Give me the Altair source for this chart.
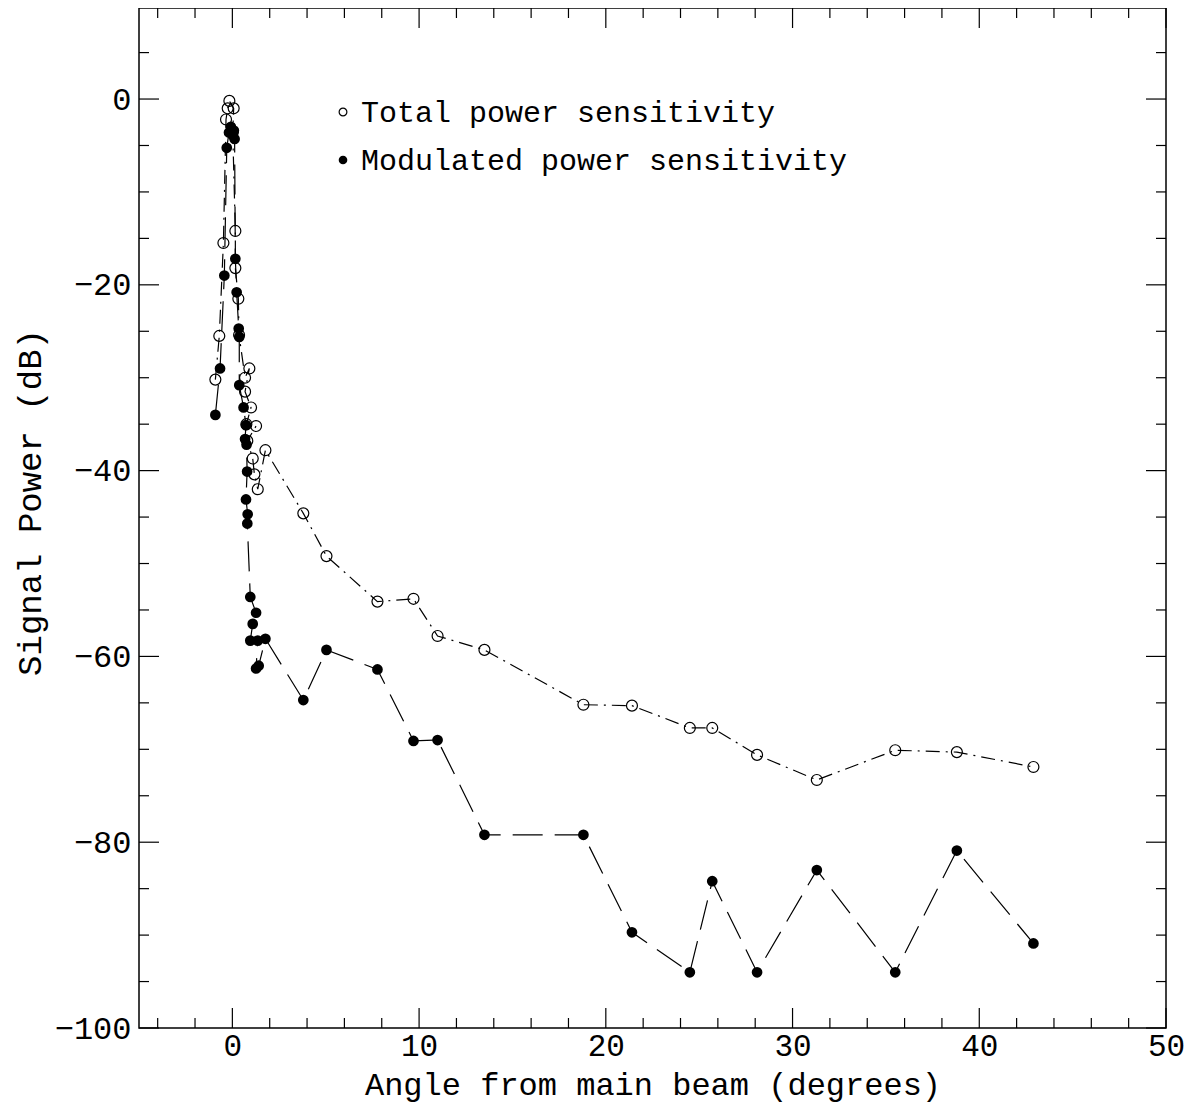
import altair as alt
import pandas as pd

# ---- data ----
tp_x = [-0.91, -0.70, -0.48, -0.34, -0.25, -0.16, 0.07, 0.02, 0.16, 0.16, 0.32, 0.36,
        0.68, 0.91, 0.68, 1.00, 0.75, 1.27, 0.80, 1.09, 1.18, 1.36, 1.77,
        3.8, 5.04, 7.77, 9.7, 10.99, 13.5, 18.8, 21.4, 24.5, 25.7, 28.1, 31.3, 35.5, 38.8, 42.9]
tp_y = [-30.2, -25.5, -15.5, -2.2, -1.0, -0.2, -1.0, -3.6, -14.2, -18.2, -21.5, -25.4,
        -30.0, -29.0, -31.5, -33.2, -35.0, -35.2, -36.8, -38.7, -40.4, -42.0, -37.8,
        -44.6, -49.2, -54.1, -53.8, -57.8, -59.3, -65.2, -65.3, -67.7, -67.7, -70.6, -73.3, -70.1, -70.3, -71.9]

mp_x = [-0.91, -0.66, -0.43, -0.30, -0.18, -0.08, 0.02, 0.08, 0.12, 0.16, 0.23, 0.34, 0.37,
        0.37, 0.60, 0.73, 0.68, 0.76, 0.79, 0.73, 0.82, 0.80, 0.96, 1.27, 1.09, 0.96, 1.36,
        1.27, 1.41, 1.77, 3.8, 5.04, 7.77, 9.7, 10.99, 13.5, 18.8, 21.4, 24.5, 25.7, 28.1,
        31.3, 35.5, 38.8, 42.9]
mp_y = [-34.0, -29.0, -19.0, -5.25, -3.6, -3.0, -3.9, -3.4, -4.3, -17.2, -20.8, -24.7, -25.6,
        -30.8, -33.2, -35.1, -36.6, -37.2, -40.1, -43.1, -44.7, -45.7, -53.6, -55.3, -56.5, -58.3, -58.3,
        -61.3, -61.0, -58.1, -64.7, -59.3, -61.4, -69.1, -69.0, -79.2, -79.2, -89.7, -94.0, -84.2, -94.0,
        -83.0, -94.0, -80.9, -90.9]

x_major = [0, 10, 20, 30, 40, 50]
x_minor = [-4, -2, 2, 4, 6, 8, 12, 14, 16, 18, 22, 24, 26, 28, 32, 34, 36, 38, 42, 44, 46, 48]
y_major = [-100, -80, -60, -40, -20, 0]
y_minor = [-95, -90, -85, -75, -70, -65, -55, -50, -45, -35, -30, -25, -15, -10, -5, 5]

legend_labels = ["Total power sensitivity", "Modulated power sensitivity"]
x_title = "Angle from main beam (degrees)"
y_title = "Signal Power (dB)"

# ---- layout ----
W, H = 1027, 1020
FONT = "Liberation Mono"
MAJ, MIN = 20, 10

tp = pd.DataFrame({"x": tp_x, "y": tp_y, "i": list(range(len(tp_x)))})
mp = pd.DataFrame({"x": mp_x, "y": mp_y, "i": list(range(len(mp_x)))})

xs = alt.Scale(domain=[-5, 50], nice=False, zero=False)
ys = alt.Scale(domain=[-100, 9.8], nice=False, zero=False)

x_axis = alt.Axis(values=x_major, format="d", ticks=False, domain=False, grid=False,
                  labelFont=FONT, labelFontSize=31, labelPadding=3, labelColor="black",
                  labelFlush=False, labelOverlap=False,
                  title=x_title, titleFont=FONT, titleFontSize=32, titleFontWeight="normal",
                  titleColor="black", titleX=W / 2, titleY=66, titleBaseline="alphabetic",
                  titleAlign="center")
y_axis = alt.Axis(values=y_major, format="d", ticks=False, domain=False, grid=False,
                  labelFont=FONT, labelFontSize=32, labelPadding=8, labelColor="black",
                  labelFlush=False, labelOverlap=False,
                  title=y_title, titleFont=FONT, titleFontSize=34, titleFontWeight="normal",
                  titleColor="black", titleX=-109, titleY=494, titleAngle=270,
                  titleBaseline="middle", titleAlign="center")

X = alt.X("x:Q", scale=xs, axis=x_axis)
Y = alt.Y("y:Q", scale=ys, axis=y_axis)

line_tp = alt.Chart(tp).mark_line(color="black", strokeWidth=1.2, strokeDash=[14, 6, 2, 6]).encode(
    x=X, y=Y, order="i:Q")
line_mp = alt.Chart(mp).mark_line(color="black", strokeWidth=1.2, strokeDash=[30, 12]).encode(
    x=X, y=Y, order="i:Q")
pts_tp = alt.Chart(tp).mark_point(shape="circle", filled=False, size=120, color="black",
                                  strokeWidth=1.2, opacity=1).encode(x=X, y=Y)
pts_mp = alt.Chart(mp).mark_circle(size=115, color="black", opacity=1).encode(x=X, y=Y)


def xticks(vals, length, top):
    df = pd.DataFrame({"x": vals})
    if top:
        y, y2 = alt.value(0), alt.value(length)
    else:
        y, y2 = alt.value(H), alt.value(H - length)
    return alt.Chart(df).mark_rule(color="black", strokeWidth=1.2).encode(x=X, y=y, y2=y2)


def yticks(vals, length, right):
    df = pd.DataFrame({"y": vals})
    if right:
        x, x2 = alt.value(W), alt.value(W - length)
    else:
        x, x2 = alt.value(0), alt.value(length)
    return alt.Chart(df).mark_rule(color="black", strokeWidth=1.2).encode(y=Y, x=x, x2=x2)


ticks = [xticks(x_major, MAJ, False), xticks(x_minor, MIN, False),
         xticks(x_major, MAJ, True), xticks(x_minor, MIN, True),
         yticks(y_major, MAJ, False), yticks(y_minor, MIN, False),
         yticks(y_major, MAJ, True), yticks(y_minor, MIN, True)]

leg1_sym = alt.Chart(pd.DataFrame({"t": [legend_labels[0]]})).mark_point(
    shape="circle", filled=False, size=60, color="black", strokeWidth=1.2, opacity=1).encode(
    x=alt.value(204), y=alt.value(104))
leg2_sym = alt.Chart(pd.DataFrame({"t": [legend_labels[1]]})).mark_circle(
    size=75, color="black", opacity=1).encode(x=alt.value(204), y=alt.value(152))
leg1_txt = alt.Chart(pd.DataFrame({"t": [legend_labels[0]]})).mark_text(
    font=FONT, fontSize=30, align="left", baseline="alphabetic", color="black").encode(
    text="t:N", x=alt.value(222), y=alt.value(114))
leg2_txt = alt.Chart(pd.DataFrame({"t": [legend_labels[1]]})).mark_text(
    font=FONT, fontSize=30, align="left", baseline="alphabetic", color="black").encode(
    text="t:N", x=alt.value(222), y=alt.value(162))

chart = alt.layer(line_tp, line_mp, pts_tp, pts_mp, *ticks,
                  leg1_sym, leg2_sym, leg1_txt, leg2_txt).properties(
    width=W, height=H,
    padding={"left": 131, "top": 0, "right": 20, "bottom": 76},
    autosize=alt.AutoSizeParams(type="none"),
    background="white",
).configure_view(stroke="black", strokeWidth=1.5)

chart.save("out.html", embed_options={"renderer": "svg", "actions": False})
